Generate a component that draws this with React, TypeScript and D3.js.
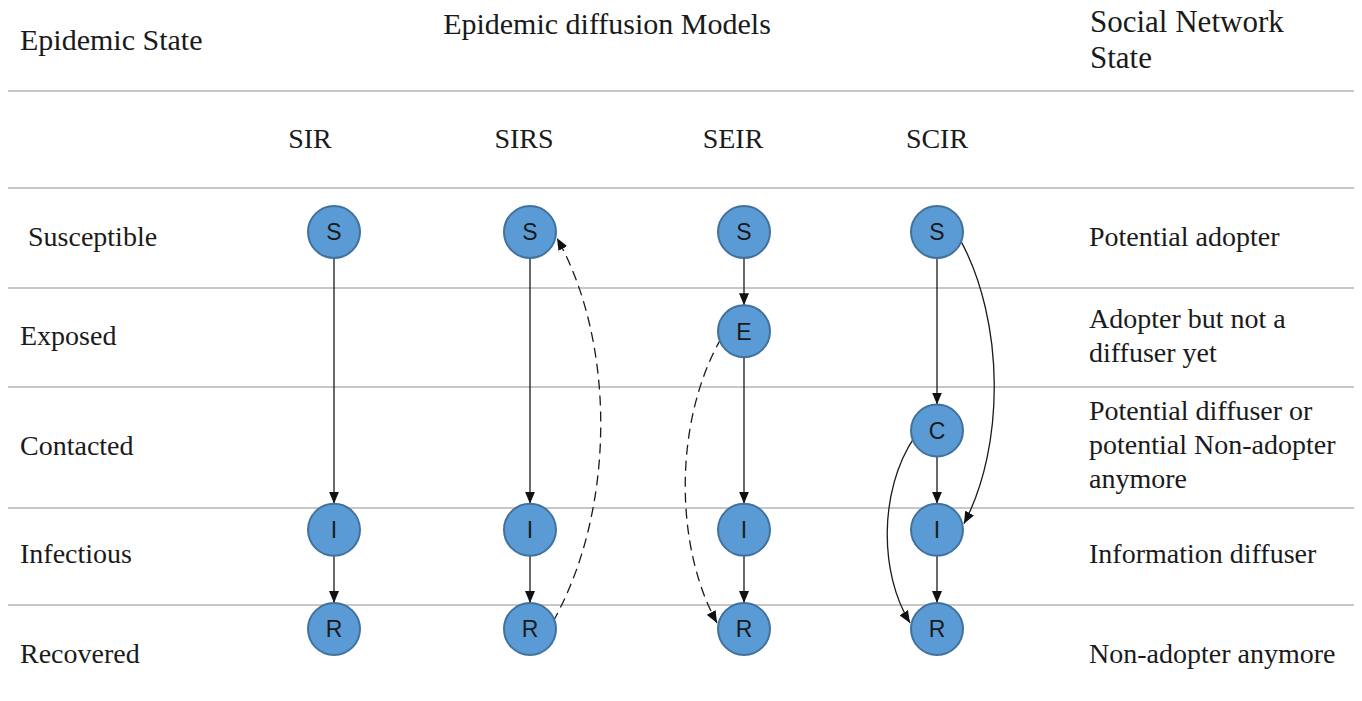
import React from "react";
import * as d3 from "d3";

const states = ["S", "E", "C", "I", "R"];
const models = ["SIR", "SIRS", "SEIR", "SCIR"];
const modelNodes: Record<string, string[]> = {
  SIR: ["S", "I", "R"],
  SIRS: ["S", "I", "R"],
  SEIR: ["S", "E", "I", "R"],
  SCIR: ["S", "C", "I", "R"],
};
// straight edges
const straightEdges = [
  ["SIR", "S", "I"], ["SIR", "I", "R"],
  ["SIRS", "S", "I"], ["SIRS", "I", "R"],
  ["SEIR", "S", "E"], ["SEIR", "E", "I"], ["SEIR", "I", "R"],
  ["SCIR", "S", "C"], ["SCIR", "C", "I"], ["SCIR", "I", "R"],
];
// curved edges: model, from, to, side (+1 right, -1 left), bulge, dashed
const curvedEdges: [string, string, string, number, number, boolean][] = [
  ["SIRS", "R", "S", 1, 86, true],
  ["SEIR", "E", "R", -1, 70, true],
  ["SCIR", "S", "I", 1, 68, false],
  ["SCIR", "C", "R", -1, 58, false],
];
const epidemicLabels = ["Susceptible", "Exposed", "Contacted", "Infectious", "Recovered"];
const socialLabels = [
  ["Potential adopter"],
  ["Adopter but not a", "diffuser yet"],
  ["Potential diffuser or", "potential Non-adopter", "anymore"],
  ["Information diffuser"],
  ["Non-adopter anymore"],
];

const W = 1362, H = 701;
const R = 26;
const serif = "'Liberation Serif', 'Times New Roman', serif";
const sans = "'Liberation Sans', Arial, sans-serif";

export default function App() {
  const y = d3.scalePoint<string>().domain(states).range([232, 629]);
  const x = d3.scaleOrdinal<string, number>().domain(models).range([334, 530, 744, 937]);
  const headerX = d3.scaleOrdinal<string, number>().domain(models).range([310, 524, 733, 937]);
  const gridY = [91, 188, 288, 387, 508, 605];
  const labelY = [246, 345, 455, 563, 663];
  const labelX = [28, 20, 20, 20, 20];
  const socialY = [246, 328, 420, 563, 663];

  const curvePath = (m: string, a: string, b: string, side: number, bulge: number) => {
    const cx = x(m);
    const ya = y(a)!, yb = y(b)!;
    const dir = yb > ya ? 1 : -1;
    const ang = (Math.PI / 180) * 62;
    const x0 = cx + side * R * Math.sin(ang);
    const y0 = ya + dir * R * Math.cos(ang) * 0.6;
    const x3 = cx + side * R * Math.sin(ang) + side * 4;
    const y3 = yb - dir * R * Math.cos(ang) * 0.5;
    const c = cx + side * bulge;
    const p = d3.path();
    p.moveTo(x0, y0);
    p.bezierCurveTo(c, ya + (yb - ya) * 0.3, c, ya + (yb - ya) * 0.72, x3, y3);
    return p.toString();
  };

  return (
    <svg width={W} height={H} style={{ position: "absolute", left: 0, top: 0, background: "#fff" }}>
      <defs>
        <marker id="arr" viewBox="0 0 12 10" refX="12" refY="5" markerWidth="12" markerHeight="10" markerUnits="userSpaceOnUse" orient="auto">
          <path d="M0,0 L12,5 L0,10 z" fill="#111" />
        </marker>
      </defs>
      {gridY.map((g, i) => (
        <line key={i} x1={8} x2={1354} y1={g} y2={g} stroke="#b4b4b4" strokeWidth={1.5} />
      ))}
      <g fontFamily={serif} fontSize={28} fill="#1a1a1a">
        <text x={20} y={50} fontSize={30}>Epidemic State</text>
        <text x={607} y={34} textAnchor="middle" fontSize={30}>Epidemic diffusion Models</text>
        <text x={1090} y={32} fontSize={31}>Social Network</text>
        <text x={1090} y={68} fontSize={31}>State</text>
        {models.map((m) => (
          <text key={m} x={headerX(m)} y={148} textAnchor="middle">{m}</text>
        ))}
        {epidemicLabels.map((l, i) => (
          <text key={l} x={labelX[i]} y={labelY[i]}>{l}</text>
        ))}
        {socialLabels.map((ls, i) =>
          ls.map((l, j) => (
            <text key={l} x={1089} y={socialY[i] + j * 34}>{l}</text>
          ))
        )}
      </g>
      <g stroke="#1a1a1a" strokeWidth={1.3} fill="none">
        {straightEdges.map(([m, a, b], i) => (
          <line key={i} x1={x(m)} x2={x(m)} y1={y(a)! + R} y2={y(b)! - R} markerEnd="url(#arr)" />
        ))}
        {curvedEdges.map(([m, a, b, side, bulge, dashed], i) => (
          <path key={i} d={curvePath(m, a, b, side, bulge)} strokeDasharray={dashed ? "10,6" : undefined} markerEnd="url(#arr)" />
        ))}
      </g>
      {models.map((m) =>
        modelNodes[m].map((s) => (
          <g key={m + s} transform={`translate(${x(m)},${y(s)})`}>
            <circle r={R} fill="#5B9BD5" stroke="#41719C" strokeWidth={2} />
            <text textAnchor="middle" dy="0.36em" fontFamily={sans} fontSize={23} fill="#1a1a1a">{s}</text>
          </g>
        ))
      )}
    </svg>
  );
}
